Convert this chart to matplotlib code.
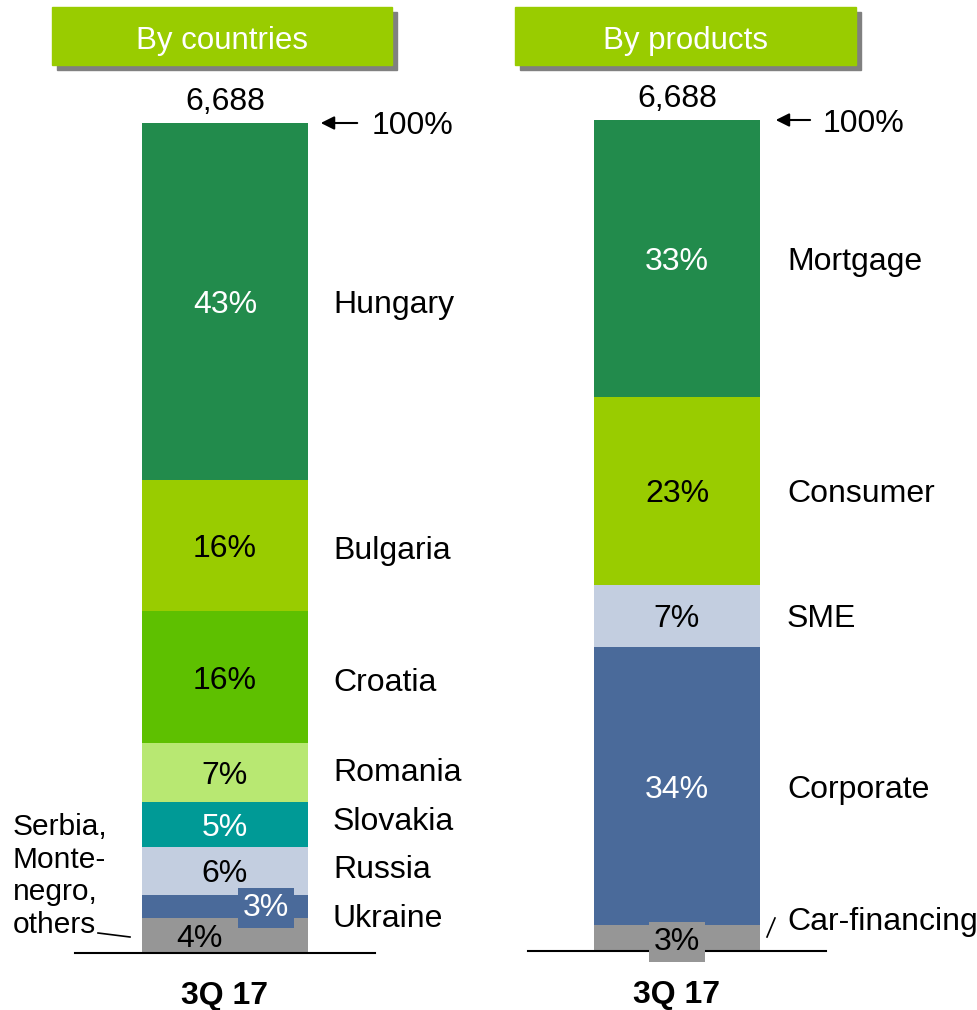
import matplotlib as mpl
mpl.use('Agg')

import matplotlib.pyplot as plt
import matplotlib.transforms as transforms
from matplotlib.patches import Rectangle
from matplotlib.lines import Line2D

plt.rcParams['font.family'] = ['Liberation Sans', 'DejaVu Sans']

# --- data -------------------------------------------------------------------
total_label = '6,688'
period = '3Q 17'

# top to bottom
countries = ['Hungary', 'Bulgaria', 'Croatia', 'Romania', 'Slovakia',
             'Russia', 'Ukraine', 'Serbia,\nMonte-\nnegro,\nothers']
country_share = [43.0, 15.8, 15.9, 7.1, 5.4, 5.8, 2.8, 4.2]
country_pct = ['43%', '16%', '16%', '7%', '5%', '6%', '3%', '4%']

products = ['Mortgage', 'Consumer', 'SME', 'Corporate', 'Car-financing']
product_share = [33.3, 22.6, 7.5, 33.5, 3.1]
product_pct = ['33%', '23%', '7%', '34%', '3%']

# --- styling ----------------------------------------------------------------
FS = 23
country_colors = ['#228B4C', '#99CC00', '#5EC000', '#B8E872',
                  '#009A96', '#C3CEE0', '#4A6A9A', '#969696']
country_txt = ['white', 'black', 'black', 'black', 'white', 'black', 'white', 'black']
country_nudge = [0, -2, -2, 3, 6, 4, -9, 0]          # px, label vs segment middle
country_pct_dx = [0, 0, 0, 0, 0, 0, 41, -26]         # px, pct label shift
country_pct_dy = [0, 0, 0, 0, 0, 0, 2, 0]

product_colors = ['#228B4C', '#99CC00', '#C3CEE0', '#4A6A9A', '#969696']
product_txt = ['white', 'black', 'black', 'white', 'black']
product_nudge = [0, 0, 0, 0, 20]

W, H = 978, 1010
fig = plt.figure(figsize=(W / 100, H / 100), dpi=100)


def fx(x):
    return x / W


def fy(y):
    return 1 - y / H


def header(x0, x1, y0, y1, text):
    fig.patches.append(Rectangle((fx(x0 + 5), fy(y1 + 5)), fx(x1 - x0), (y1 - y0) / H,
                                 transform=fig.transFigure, color='#808080', zorder=0))
    fig.patches.append(Rectangle((fx(x0), fy(y1)), fx(x1 - x0), (y1 - y0) / H,
                                 transform=fig.transFigure, color='#99CC00', zorder=1))
    fig.text(fx((x0 + x1) / 2), fy((y0 + y1) / 2 + 1), text, color='white',
             fontsize=22.5, ha='center', va='center_baseline', zorder=2)


def stacked(ax, shares, pct, colors, txt_colors, names, nudges, pct_dx, pct_dy,
            name_x, arrow_x, boxed, line_y):
    ax.set_xlim(-1, 1)
    ax.set_ylim(0, sum(shares))
    width = 1.11
    bottom = sum(shares)
    mids = []
    for i, s in enumerate(shares):
        bottom -= s
        ax.bar(0, s, bottom=bottom, width=width, color=colors[i], zorder=1)
        mids.append(bottom + s / 2)

    blend = transforms.blended_transform_factory(ax.transAxes, ax.transData)
    for i, m in enumerate(mids):
        kw = {}
        if i == boxed:
            kw['bbox'] = dict(boxstyle='square,pad=0.16', fc=colors[i], ec='none')
        ax.annotate(pct[i], (0, m), xytext=(pct_dx[i] * 0.72, pct_dy[i] * 0.72),
                    textcoords='offset points', ha='center', va='center_baseline',
                    color=txt_colors[i], fontsize=FS, zorder=4, **kw)
        if names[i] is not None:
            ax.annotate(names[i], (name_x, m), xycoords=blend,
                        xytext=(0, nudges[i] * 0.72), textcoords='offset points',
                        ha='left', va='center_baseline', fontsize=FS,
                        annotation_clip=False)

    top = sum(shares)
    ax.annotate(total_label, (0, top), xytext=(0, 4), textcoords='offset points',
                ha='center', va='bottom', fontsize=FS, annotation_clip=False)
    ax.annotate('', xy=(arrow_x[0], top), xycoords=blend,
                xytext=(arrow_x[1], top), textcoords=blend,
                arrowprops=dict(arrowstyle='-|>', color='black', lw=1.5,
                                mutation_scale=20), annotation_clip=False)
    ax.annotate('100%', (arrow_x[2], top), xycoords=blend, ha='left',
                va='center_baseline', fontsize=FS, annotation_clip=False)

    for sp in ['top', 'left', 'right']:
        ax.spines[sp].set_visible(False)
    ax.spines['bottom'].set_linewidth(1.5)
    ax.set_yticks([])
    ax.set_xticks([0])
    ax.set_xticklabels([period], fontsize=FS, fontweight='bold')
    ax.tick_params(axis='x', length=0, pad=line_y)


header(52, 392, 7, 65, 'By countries')
header(515, 856, 7, 65, 'By products')

ax1 = fig.add_axes([fx(75), fy(953), fx(300), 830 / H])
names_c = countries[:-1] + [None]
stacked(ax1, country_share, country_pct, country_colors, country_txt, names_c,
        country_nudge, country_pct_dx, country_pct_dy, 0.86, (0.81, 0.95, 0.99), 6, 20)
fig.text(fx(13), fy(876), countries[-1], fontsize=21.5, ha='left', va='center',
         linespacing=1.2)
fig.lines.append(Line2D([fx(98), fx(130)], [fy(933), fy(937)],
                        transform=fig.transFigure, color='black', lw=1.2))

ax2 = fig.add_axes([fx(528), fy(951), fx(298), 831 / H])
stacked(ax2, product_share, product_pct, product_colors, product_txt, products,
        product_nudge, [0] * 5, [0] * 5, 0.869, (0.822, 0.956, 0.99), 4, 21)
fig.lines.append(Line2D([fx(767), fx(775)], [fy(937), fy(918)],
                        transform=fig.transFigure, color='black', lw=1.2))

plt.savefig('out.png', dpi=100)
